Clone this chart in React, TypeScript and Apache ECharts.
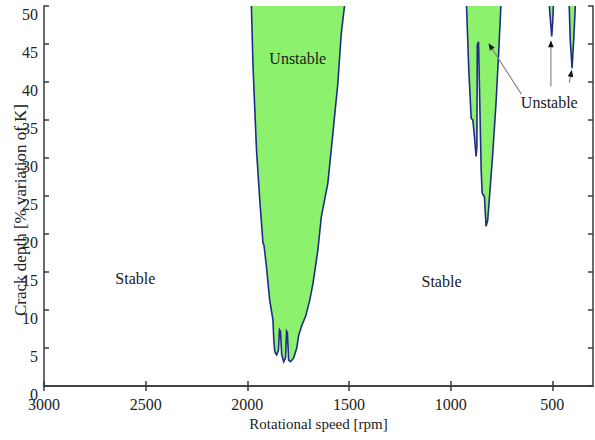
import React, { useEffect, useRef } from 'react';
import * as echarts from 'echarts';

// axis ranges and ticks
const X_MIN = 300;
const X_MAX = 3000;
const xTickValues = [3000, 2500, 2000, 1500, 1000, 500];
const Y_MIN = 0;
const Y_MAX = 50;
const Y_INTERVAL = 5;

// instability regions: [rotational speed rpm, crack depth %]
const regionMain: number[][] = [
  [1980, 50], [1972, 42], [1955, 31.1], [1939, 24.5], [1923, 18.8], [1918, 18.5],
  [1906, 15.7], [1890, 11.3], [1874, 8.7], [1870, 6.1], [1865, 4.5], [1856, 4.1],
  [1847, 4.7], [1842, 7.4], [1837, 7.2], [1831, 4.1], [1821, 3.2], [1812, 3.7],
  [1807, 7.2], [1803, 7.0], [1797, 3.4], [1787, 3.2], [1772, 3.7], [1757, 5.0],
  [1748, 6.6], [1733, 7.9], [1713, 9.2], [1693, 11.3], [1677, 13.5], [1653, 17.9],
  [1636, 22.3], [1604, 26.7], [1579, 33.3], [1555, 39.8], [1538, 46.4], [1522, 50],
];
const regionSecond: number[][] = [
  [922, 50], [911, 41.6], [899, 35.2], [891, 35.0], [883, 32.8], [875, 30.2],
  [871, 31.5], [869, 44.9], [863, 45.3], [850, 28.4], [845, 25.4], [834, 24.9],
  [826, 21.0], [818, 21.8], [809, 24.9], [793, 30.6], [777, 37.2], [764, 43.8], [753, 50],
];
const regionThird: number[][] = [
  [515, 50], [509, 48], [503, 46.0], [498, 48], [495, 50],
];
const regionFourth: number[][] = [
  [417, 50], [412, 45.5], [403, 41.8], [395, 45.5], [387, 50],
];

// annotations (data coordinates)
const textLabels = [
  { text: 'Stable', at: [2551, 14.1] },
  { text: 'Stable', at: [1045, 13.8] },
  { text: 'Unstable', at: [1752, 43.1] },
  { text: 'Unstable', at: [515, 37.3] },
];
const arrows = [
  { from: [652, 38.4], to: [814, 45.1] },
  { from: [507, 39.4], to: [507, 45.5] },
  { from: [417, 39.9], to: [404, 41.6] },
];

const FONT = 'Liberation Serif';
const FILL = '#8cf26e';
const EDGE = '#1f2d86';
const AXIS = '#3a3a3a';

function regionSeries(name: string, pts: number[][]) {
  return {
    type: 'custom',
    name,
    coordinateSystem: 'cartesian2d',
    xAxisIndex: 0,
    yAxisIndex: 0,
    silent: true,
    data: pts,
    encode: { x: 0, y: 1 },
    z: 1,
    renderItem: (params: any, api: any) => {
      if (params.dataIndex !== 0) return null;
      const pix = pts.map((p) => api.coord(p));
      return {
        type: 'group',
        children: [
          { type: 'polygon', shape: { points: pix }, style: { fill: FILL } },
          {
            type: 'polyline',
            shape: { points: pix },
            style: { stroke: EDGE, lineWidth: 1.6, fill: null },
          },
        ],
      };
    },
  };
}

export default function App() {
  const ref = useRef<HTMLDivElement>(null);
  useEffect(() => {
    if (!ref.current) return;
    const chart = echarts.init(ref.current, null, { renderer: 'svg' });
    const axisLineStyle = { color: AXIS, width: 1.5 };
    const plain = (v: number) => String(v);
    chart.setOption({
      animation: false,
      backgroundColor: '#ffffff',
      textStyle: { fontFamily: FONT },
      grid: { left: 44, right: 2, top: 6, bottom: 54, containLabel: false },
      xAxis: [
        {
          type: 'value',
          min: X_MIN,
          max: X_MAX,
          inverse: true,
          position: 'bottom',
          splitLine: { show: false },
          axisLine: { show: true, lineStyle: axisLineStyle },
          axisTick: { show: true, inside: true, length: 5, customValues: xTickValues, lineStyle: axisLineStyle },
          axisLabel: {
            show: true,
            customValues: xTickValues,
            formatter: plain,
            margin: 10,
            color: '#222',
            fontSize: 16,
            fontFamily: FONT,
            showMinLabel: true,
            showMaxLabel: true,
          },
          name: 'Rotational speed [rpm]',
          nameLocation: 'middle',
          nameGap: 27,
          nameTextStyle: { color: '#222', fontSize: 15, fontFamily: FONT },
        },
        {
          type: 'value',
          min: X_MIN,
          max: X_MAX,
          inverse: true,
          position: 'top',
          splitLine: { show: false },
          axisLine: { show: true, lineStyle: axisLineStyle },
          axisTick: { show: true, inside: true, length: 5, customValues: xTickValues, lineStyle: axisLineStyle },
          axisLabel: { show: false },
        },
      ],
      yAxis: [
        {
          type: 'value',
          min: Y_MIN,
          max: Y_MAX,
          interval: Y_INTERVAL,
          position: 'left',
          splitLine: { show: false },
          axisLine: { show: true, lineStyle: axisLineStyle },
          axisTick: { show: true, inside: true, length: 5, lineStyle: axisLineStyle },
          axisLabel: {
            show: true,
            formatter: plain,
            margin: 6,
            verticalAlign: 'top',
            color: '#222',
            fontSize: 16,
            fontFamily: FONT,
          },
        },
        {
          type: 'value',
          min: Y_MIN,
          max: Y_MAX,
          interval: Y_INTERVAL,
          position: 'right',
          splitLine: { show: false },
          axisLine: { show: true, lineStyle: axisLineStyle },
          axisTick: { show: true, inside: true, length: 5, lineStyle: axisLineStyle },
          axisLabel: { show: false },
        },
      ],
      series: [
        regionSeries('main', regionMain),
        regionSeries('second', regionSecond),
        regionSeries('third', regionThird),
        regionSeries('fourth', regionFourth),
      ],
    });

    const px = (p: number[]) =>
      chart.convertToPixel({ xAxisIndex: 0, yAxisIndex: 0 }, p) as number[];

    const graphics: any[] = [];
    textLabels.forEach((t) => {
      const [x, y] = px(t.at);
      graphics.push({
        type: 'text',
        x,
        y,
        z: 10,
        style: {
          text: t.text,
          font: `16px "${FONT}"`,
          fill: '#1a1a1a',
          textAlign: 'center',
          textVerticalAlign: 'middle',
        },
      });
    });
    arrows.forEach((a) => {
      const [x1, y1] = px(a.from);
      const [x2, y2] = px(a.to);
      const dx = x2 - x1;
      const dy = y2 - y1;
      const len = Math.sqrt(dx * dx + dy * dy) || 1;
      const ux = dx / len;
      const uy = dy / len;
      const hl = 7;
      const hw = 2.8;
      const bx = x2 - ux * hl;
      const by = y2 - uy * hl;
      graphics.push({
        type: 'line',
        z: 10,
        shape: { x1, y1, x2: bx, y2: by },
        style: { stroke: '#808080', lineWidth: 1.1 },
      });
      graphics.push({
        type: 'polygon',
        z: 10,
        shape: {
          points: [
            [x2, y2],
            [bx - uy * hw, by + ux * hw],
            [bx + uy * hw, by - ux * hw],
          ],
        },
        style: { fill: '#111' },
      });
    });
    graphics.push({
      type: 'text',
      x: 20,
      y: 210,
      rotation: Math.PI / 2,
      z: 10,
      style: {
        text: 'Crack depth [% variation of K]',
        font: `17px "${FONT}"`,
        fill: '#222',
        textAlign: 'center',
        textVerticalAlign: 'middle',
      },
    });
    chart.setOption({ graphic: graphics });

    return () => chart.dispose();
  }, []);
  return (
    <div
      ref={ref}
      style={{ position: 'fixed', left: 0, top: 0, width: 595, height: 440, background: '#fff' }}
    />
  );
}
